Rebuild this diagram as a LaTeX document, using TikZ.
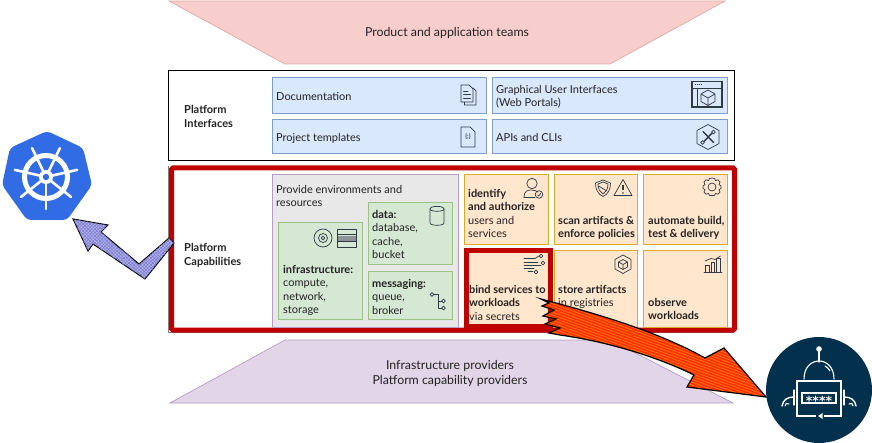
\documentclass[tikz,border=0pt]{standalone}
\usepackage{fontspec}
\setmainfont{Lato}
\newfontfamily\starfont{DejaVu Sans}
\usetikzlibrary{patterns.meta}
\definecolor{ink}{HTML}{222222}
\definecolor{icongray}{HTML}{2E3A44}
\definecolor{redline}{HTML}{C00000}
\definecolor{bluefill}{HTML}{DAE8FC}
\definecolor{blueline}{HTML}{7F9DCB}
\definecolor{greenfill}{HTML}{D5E8D4}
\definecolor{greenline}{HTML}{9AC283}
\definecolor{orangefill}{HTML}{FFE6CC}
\definecolor{orangeline}{HTML}{DFA928}
\definecolor{pinkfill}{HTML}{F8CECC}
\definecolor{pinkline}{HTML}{E0A8A4}
\definecolor{lilacfill}{HTML}{E1D5E7}
\definecolor{lilacline}{HTML}{B79CC6}
\definecolor{k8s}{HTML}{326CE5}
\definecolor{navy}{HTML}{03304D}
\definecolor{lavbase}{HTML}{B4B4EC}
\definecolor{lavline}{HTML}{7C7CD0}
\definecolor{arrowred}{HTML}{FF2A00}
\definecolor{arroworange}{HTML}{FF7A00}
\tikzset{
  x=1pt,y=-1pt,
  lbl/.style={anchor=north west,inner sep=0pt,align=left,text=ink,
    font=\fontsize{11}{13.5}\selectfont,
    execute at begin node={\rule{0pt}{10pt}}},
  lbltall/.style={lbl,font=\fontsize{11}{14}\selectfont},
  ctr/.style={inner sep=0pt,align=center,text=ink,
    font=\fontsize{12.35}{15}\selectfont},
  bluebox/.style={draw=blueline,fill=bluefill,line width=.7pt},
  greenbox/.style={draw=greenline,fill=greenfill,line width=.7pt},
  orangebox/.style={draw=orangeline,fill=orangefill,line width=.7pt},
  icon/.style={draw=icongray,line width=.7pt,line join=round,line cap=round},
  robot/.style={draw=white,line width=1.1pt,line cap=round},
}
\begin{document}
\begin{tikzpicture}
\useasboundingbox (0,0) rectangle (872,443);

% trapezoids
\draw[fill=pinkfill,draw=pinkline,line width=.7pt] (169,1)--(725,1)--(610,64)--(285,64)--cycle;
\draw[fill=lilacfill,draw=lilacline,line width=.7pt] (285,340)--(610,340)--(733,403)--(170,403)--cycle;
\node[ctr] (teams) at (447,33.5) {Product and application teams};
\node[ctr] (providers) at (450,373.5) {Infrastructure providers\\Platform capability providers};

% platform interfaces
\draw[black,line width=.7pt] (168.5,70.5) rectangle (734,160.5);
\node[lbltall] (ifacelbl) at (184,105) {\bfseries Platform\\\bfseries Interfaces};
\draw[bluebox] (272,77) rectangle (486,113);
\draw[bluebox] (272,119) rectangle (486,153);
\draw[bluebox] (492,77) rectangle (727,113);
\draw[bluebox] (492,119) rectangle (727,153);
\node[lbl] (doc) at (276,90) {Documentation};
\node[lbl] (tmpl) at (276,131) {Project templates};
\node[lbl] (gui) at (496,85) {Graphical User Interfaces\\(Web Portals)};
\node[lbl] (apis) at (496,131) {APIs and CLIs};

% platform capabilities frame
\draw[gray,line width=.7pt] (168.5,166.5) -- (168.5,332.5) -- (734,332.5);
\draw[redline,line width=5pt,rounded corners=1.5pt] (171.5,168) rectangle (734.5,330);
\node[lbltall] (caplbl) at (184,243) {\bfseries Platform\\\bfseries Capabilities};

% grey panel
\draw[fill=black!9,draw=lilacline,line width=.7pt] (272,174) rectangle (458,327);
\node[lbl] (prov) at (276,185) {Provide environments and\\resources};
\draw[greenbox] (278,222) rectangle (362,319);
\draw[greenbox] (368,202) rectangle (452,264);
\draw[greenbox] (368,271) rectangle (452,319);
\node[lbl] (infra) at (283,265) {\bfseries infrastructure:\\compute,\\network,\\storage};
\node[lbl] (data) at (372,210) {\bfseries data:\\database,\\cache,\\bucket};
\node[lbl] (msg) at (372,279) {\bfseries messaging:\\queue,\\broker};

% orange boxes
\draw[orangebox] (464,174) rectangle (548,244);
\draw[orangebox] (554,174) rectangle (637,244);
\draw[orangebox] (643,174) rectangle (727,244);
\draw[orangebox] (464,250) rectangle (548,327);
\draw[orangebox] (554,250) rectangle (637,327);
\draw[orangebox] (643,250) rectangle (727,327);
\draw[redline,line width=5pt] (466.5,250.5) rectangle (550.5,326.5);
\node[lbl] (ident) at (468,189) {\bfseries identify\\\bfseries and authorize\\users and\\services};
\node[lbl] (scan) at (558,216) {\bfseries scan artifacts \&\\\bfseries enforce policies};
\node[lbl] (auto) at (648,216) {\bfseries automate build,\\\bfseries test \& delivery};
\node[lbl] (bind) at (469,285) {\bfseries bind services to\\\bfseries workloads\\via secrets};
\node[lbl] (store) at (558,285) {\bfseries store artifacts\\in registries};
\node[lbl] (obs) at (648,298) {\bfseries observe\\\bfseries workloads};

% --- icons ---
% documents
\draw[icon] (464.5,89) -- (464.5,105) -- (476,105) -- (476,91) -- (473,88);
\draw[icon,fill=bluefill] (461,85) -- (469,85) -- (473,89) -- (473,102) -- (461,102) -- cycle;
\draw[icon] (463.5,91)--(468,91) (463.5,94.5)--(470.5,94.5) (463.5,98)--(470.5,98);
% code file
\draw[icon] (461,127) -- (470,127) -- (475,132) -- (475,147) -- (461,147) -- cycle;
\node[inner sep=0pt,text=icongray,font=\fontsize{6}{6}\selectfont\bfseries] (codeglyph) at (468,137) {\{;\}};
% window with cube
\draw[icongray,line width=1.1pt] (692,81.5) rectangle (722,107);
\draw[icongray,line width=.9pt] (692,88)--(722,88) (697.5,88)--(697.5,107);
\draw[icongray,line width=.9pt,dash pattern=on 1pt off 1pt] (694.5,84.8)--(701,84.8);
\draw[icon] (708,90)--(715,94)--(715,101.5)--(708,105.5)--(701,101.5)--(701,94)--cycle (701,94)--(708,98)--(715,94) (708,98)--(708,105.5);
% hexagon tools
\draw[icon] (708,124.5)--(719,130.5)--(719,143.5)--(708,149.5)--(697,143.5)--(697,130.5)--cycle;
\draw[icon,line width=1.4pt] (703,131.5)--(713.5,142.5) (713.5,131.5)--(703,142.5);
\draw[icon,fill=bluefill] (702.5,142.5) circle (1.8pt) (713.5,132) circle (1.8pt);
% person
\draw[icon] (532,183.5) circle (5.2pt);
\draw[icon] (524,197) .. controls (524,191) and (528,190) .. (531,190) .. controls (534,190) and (537,191) .. (538,192);
\draw[icon] (524,197) -- (535,197);
\draw[icon] (539,194.5) circle (3.8pt);
\draw[icon] (537.5,194.8)--(538.7,196)--(540.8,193.3);
% shield
\draw[icon] (603,180) -- (610.5,183) .. controls (610.5,190) and (608,194) .. (603,196.5) .. controls (598,194) and (595.5,190) .. (595.5,183) -- cycle;
\draw[icon] (598,184) -- (603,182) -- (608,184) .. controls (608,189) and (606,192) .. (603,194) .. controls (600,192) and (598,189) .. (598,184) -- cycle;
\draw[icon] (598.5,186)--(607,191);
% warning
\draw[icon] (623,179.5)--(632,195.5)--(614,195.5)--cycle;
\draw[icongray,line width=1.1pt] (623,185)--(623,190.5);
\fill[icongray] (623,193) circle (.8pt);
% gear
\draw[icon] (712,187) circle (4pt);
\draw[icon] (712,178) -- (714.5,178.5) -- (715.5,180.6) -- (718,179.8) -- (720,182) -- (719,184.5) -- (721,186) -- (721,188.5) -- (719,189.6) -- (720,192) -- (718,194.2) -- (715.5,193.4) -- (714.5,195.5) -- (709.5,195.5) -- (708.5,193.4) -- (706,194.2) -- (704,192) -- (705,189.6) -- (703,188.5) -- (703,186) -- (705,184.5) -- (704,182) -- (706,179.8) -- (708.5,180.6) -- (709.5,178.5) -- cycle;
% flow lines
\draw[icon] (524,258.5)--(535,258.5) .. controls (538,258.5) and (536,256) .. (539,256);
\draw[icon] (524,262)--(538,262) (524,265)--(541,265);
\draw[icon] (524,268)--(534,268) (528,271)--(533,271);
\draw[icon] (541,256) circle (1.8pt) (543,263) circle (1.8pt) (536,272) circle (1.8pt);
% hex cube
\draw[icon] (623,255)--(631,259.5)--(631,269)--(623,273.5)--(615,269)--(615,259.5)--cycle;
\draw[icon] (623,259.5)--(627.5,262)--(627.5,267)--(623,269.5)--(618.5,267)--(618.5,262)--cycle (618.5,262)--(623,264.5)--(627.5,262) (623,264.5)--(623,269.5);
% chart
\draw[icon] (704,272)--(722,272);
\draw[icon] (705.5,272)--(705.5,265)--(709,265)--(709,272);
\draw[icon] (711,272)--(711,262)--(714.5,262)--(714.5,272);
\draw[icon] (716.5,272)--(716.5,258)--(720,258)--(720,272);
\draw[icon] (705,261)--(711,258.5)--(715,259.5)--(720.5,256);
% disc
\draw[icon] (323,238) circle (9pt) (323,238) circle (4.5pt);
\draw[icon] (323,238) circle (1.8pt);
% server stack
\draw[icon] (337.5,229) rectangle (356,247);
\fill[icongray!55] (337.5,236) rectangle (356,241);
\draw[icon] (337.5,234.5)--(356,234.5) (337.5,241.5)--(356,241.5);
% cylinder
\draw[icon] (430,209) .. controls (430,205.5) and (444,205.5) .. (444,209) -- (444,223) .. controls (444,226) and (430,226) .. (430,223) -- cycle;
\draw[icon] (430,209) .. controls (430,212) and (444,212) .. (444,209);
% tree
\draw[icon] (433,294.5) -- (438.5,294.5) -- (438.5,308) -- (442,308) (438.5,301) -- (442,301);
\draw[icon,fill=greenfill] (432,294.5) circle (1.8pt) (443.5,301) circle (1.8pt) (443.5,308) circle (1.8pt);

% --- purple arrow ---
\draw[black,line width=1pt,line join=miter,preaction={fill=lavbase},
  pattern={Lines[angle=45,distance=2.4pt,line width=.6pt]},pattern color=lavline]
  (73,219)--(108,225)--(101,232)--(139,264)--(169,238)--(174,243)--(145,279)--(93,244)--(88,251)--cycle;
\path[pattern={Lines[angle=-45,distance=2.4pt,line width=.6pt]},pattern color=lavline]
  (73,219)--(108,225)--(101,232)--(139,264)--(169,238)--(174,243)--(145,279)--(93,244)--(88,251)--cycle;

% --- red arrow ---
\draw[black,line width=1.2pt,line join=miter,preaction={fill=arrowred},
  pattern={Lines[angle=-20,distance=2.6pt,line width=.9pt]},pattern color=arroworange]
  (541,299) .. controls (590,312) and (655,330) .. (705,358)
  -- (724,348) -- (766,397) -- (687,387) -- (694,375)
  .. controls (660,358) and (610,342) .. (560,335)
  -- (549,333) -- (560,328) -- (545,324) -- (556,319) -- (543,316) -- (554,310) -- (542,306) -- (549,303) -- cycle;

% --- kubernetes logo ---
\fill[k8s,rounded corners=4pt] (47,131)--(83,148)--(92,185)--(67,220)--(27,220)--(2,185)--(10,148)--cycle;
\foreach \a in {-90,-38.57,12.86,64.29,115.71,167.14,218.57}
  \draw[white,line width=2.6pt,line cap=round] (46,177) -- ++(\a:32pt);
\draw[white,line width=5pt] (46,177) circle (21.5pt);
\fill[white] (46,177) circle (7pt);
\fill[k8s] (46,177) circle (3.2pt);

% --- robot ---
\fill[navy] (819,390) circle (53pt);
\draw[robot] (804,379) .. controls (804,355) and (834,355) .. (834,379);
\draw[robot] (819,362)--(819,350);
\fill[white] (819,349) circle (2.8pt);
\draw[robot] (825,366) .. controls (827,367) and (829,369) .. (830,371);
\draw[robot,line cap=butt] (824,416)--(841,416)--(841,381)--(797,381)--(797,416)--(816,416);
\fill[white] (818,416)--(822.5,413)--(822.5,419)--cycle;
\draw[robot] (802,393) rectangle (836,403);
\node[inner sep=0pt,text=white,font=\starfont\fontsize{12.5}{12.5}\selectfont\bfseries] (stars) at (819,400.5) {****};
\draw[robot] (794,390)--(794,405);
\draw[robot] (844,390)--(844,405);
\draw[robot,line width=1.4pt] (794,397) .. controls (787,397) and (783,400) .. (782,406);
\draw[robot,line width=1.4pt] (844,397) .. controls (851,397) and (855,400) .. (856,406);
\draw[robot] (789,404) .. controls (787,402) and (785,404) .. (785,406);
\draw[robot] (849,404) .. controls (851,402) and (853,404) .. (853,406);
\end{tikzpicture}
\end{document}
